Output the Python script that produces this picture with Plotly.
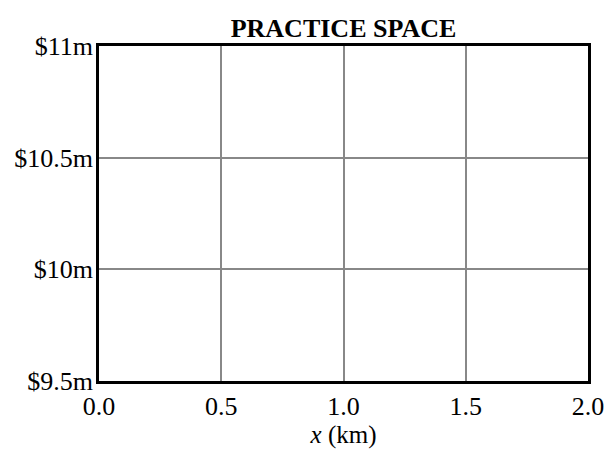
import plotly.graph_objects as go

x_range = [0.0, 2.0]
y_range = [9.5, 11.0]
x_ticks = [0.0, 0.5, 1.0, 1.5, 2.0]
x_tick_labels = ["0.0", "0.5", "1.0", "1.5", "2.0"]
y_ticks = [9.5, 10.0, 10.5, 11.0]
y_tick_labels = ["$9.5m", "$10m", "$10.5m", "$11m"]

font = "Liberation Serif"

fig = go.Figure()
fig.add_trace(go.Scatter(x=x_range, y=y_range, mode="markers", marker=dict(opacity=0), hoverinfo="skip", showlegend=False))

fig.update_layout(
    width=608, height=454,
    margin=dict(l=99, r=20, t=46, b=73, autoexpand=False),
    paper_bgcolor="white", plot_bgcolor="white",
    font=dict(family=font, size=26, color="black"),
    title=dict(text="<b>PRACTICE SPACE</b>", x=0.5, xanchor="center", xref="paper",
               y=1, yref="paper", yanchor="bottom", pad=dict(b=9),
               font=dict(family=font, size=26, color="black")),
    showlegend=False,
)
fig.update_xaxes(range=x_range, tickvals=x_ticks, ticktext=x_tick_labels,
                 showgrid=True, gridcolor="#888888", gridwidth=1.5,
                 showline=True, linecolor="black", linewidth=2.5, mirror=True,
                 ticks="", ticklen=0, zeroline=False,
                 title=dict(text="<i>x</i> (km)", standoff=6, font=dict(family=font, size=25)),
                 tickfont=dict(family=font, size=26))
fig.update_yaxes(range=y_range, tickvals=y_ticks, ticktext=y_tick_labels,
                 showgrid=True, gridcolor="#888888", gridwidth=1.5,
                 showline=True, linecolor="black", linewidth=2.5, mirror=True,
                 ticks="", ticklen=0, zeroline=False, ticklabelstandoff=-2,
                 tickfont=dict(family=font, size=26))

fig.write_html("out.html", config={"displayModeBar": False},
               post_script="document.body.style.margin='0';document.body.style.padding='0';")
